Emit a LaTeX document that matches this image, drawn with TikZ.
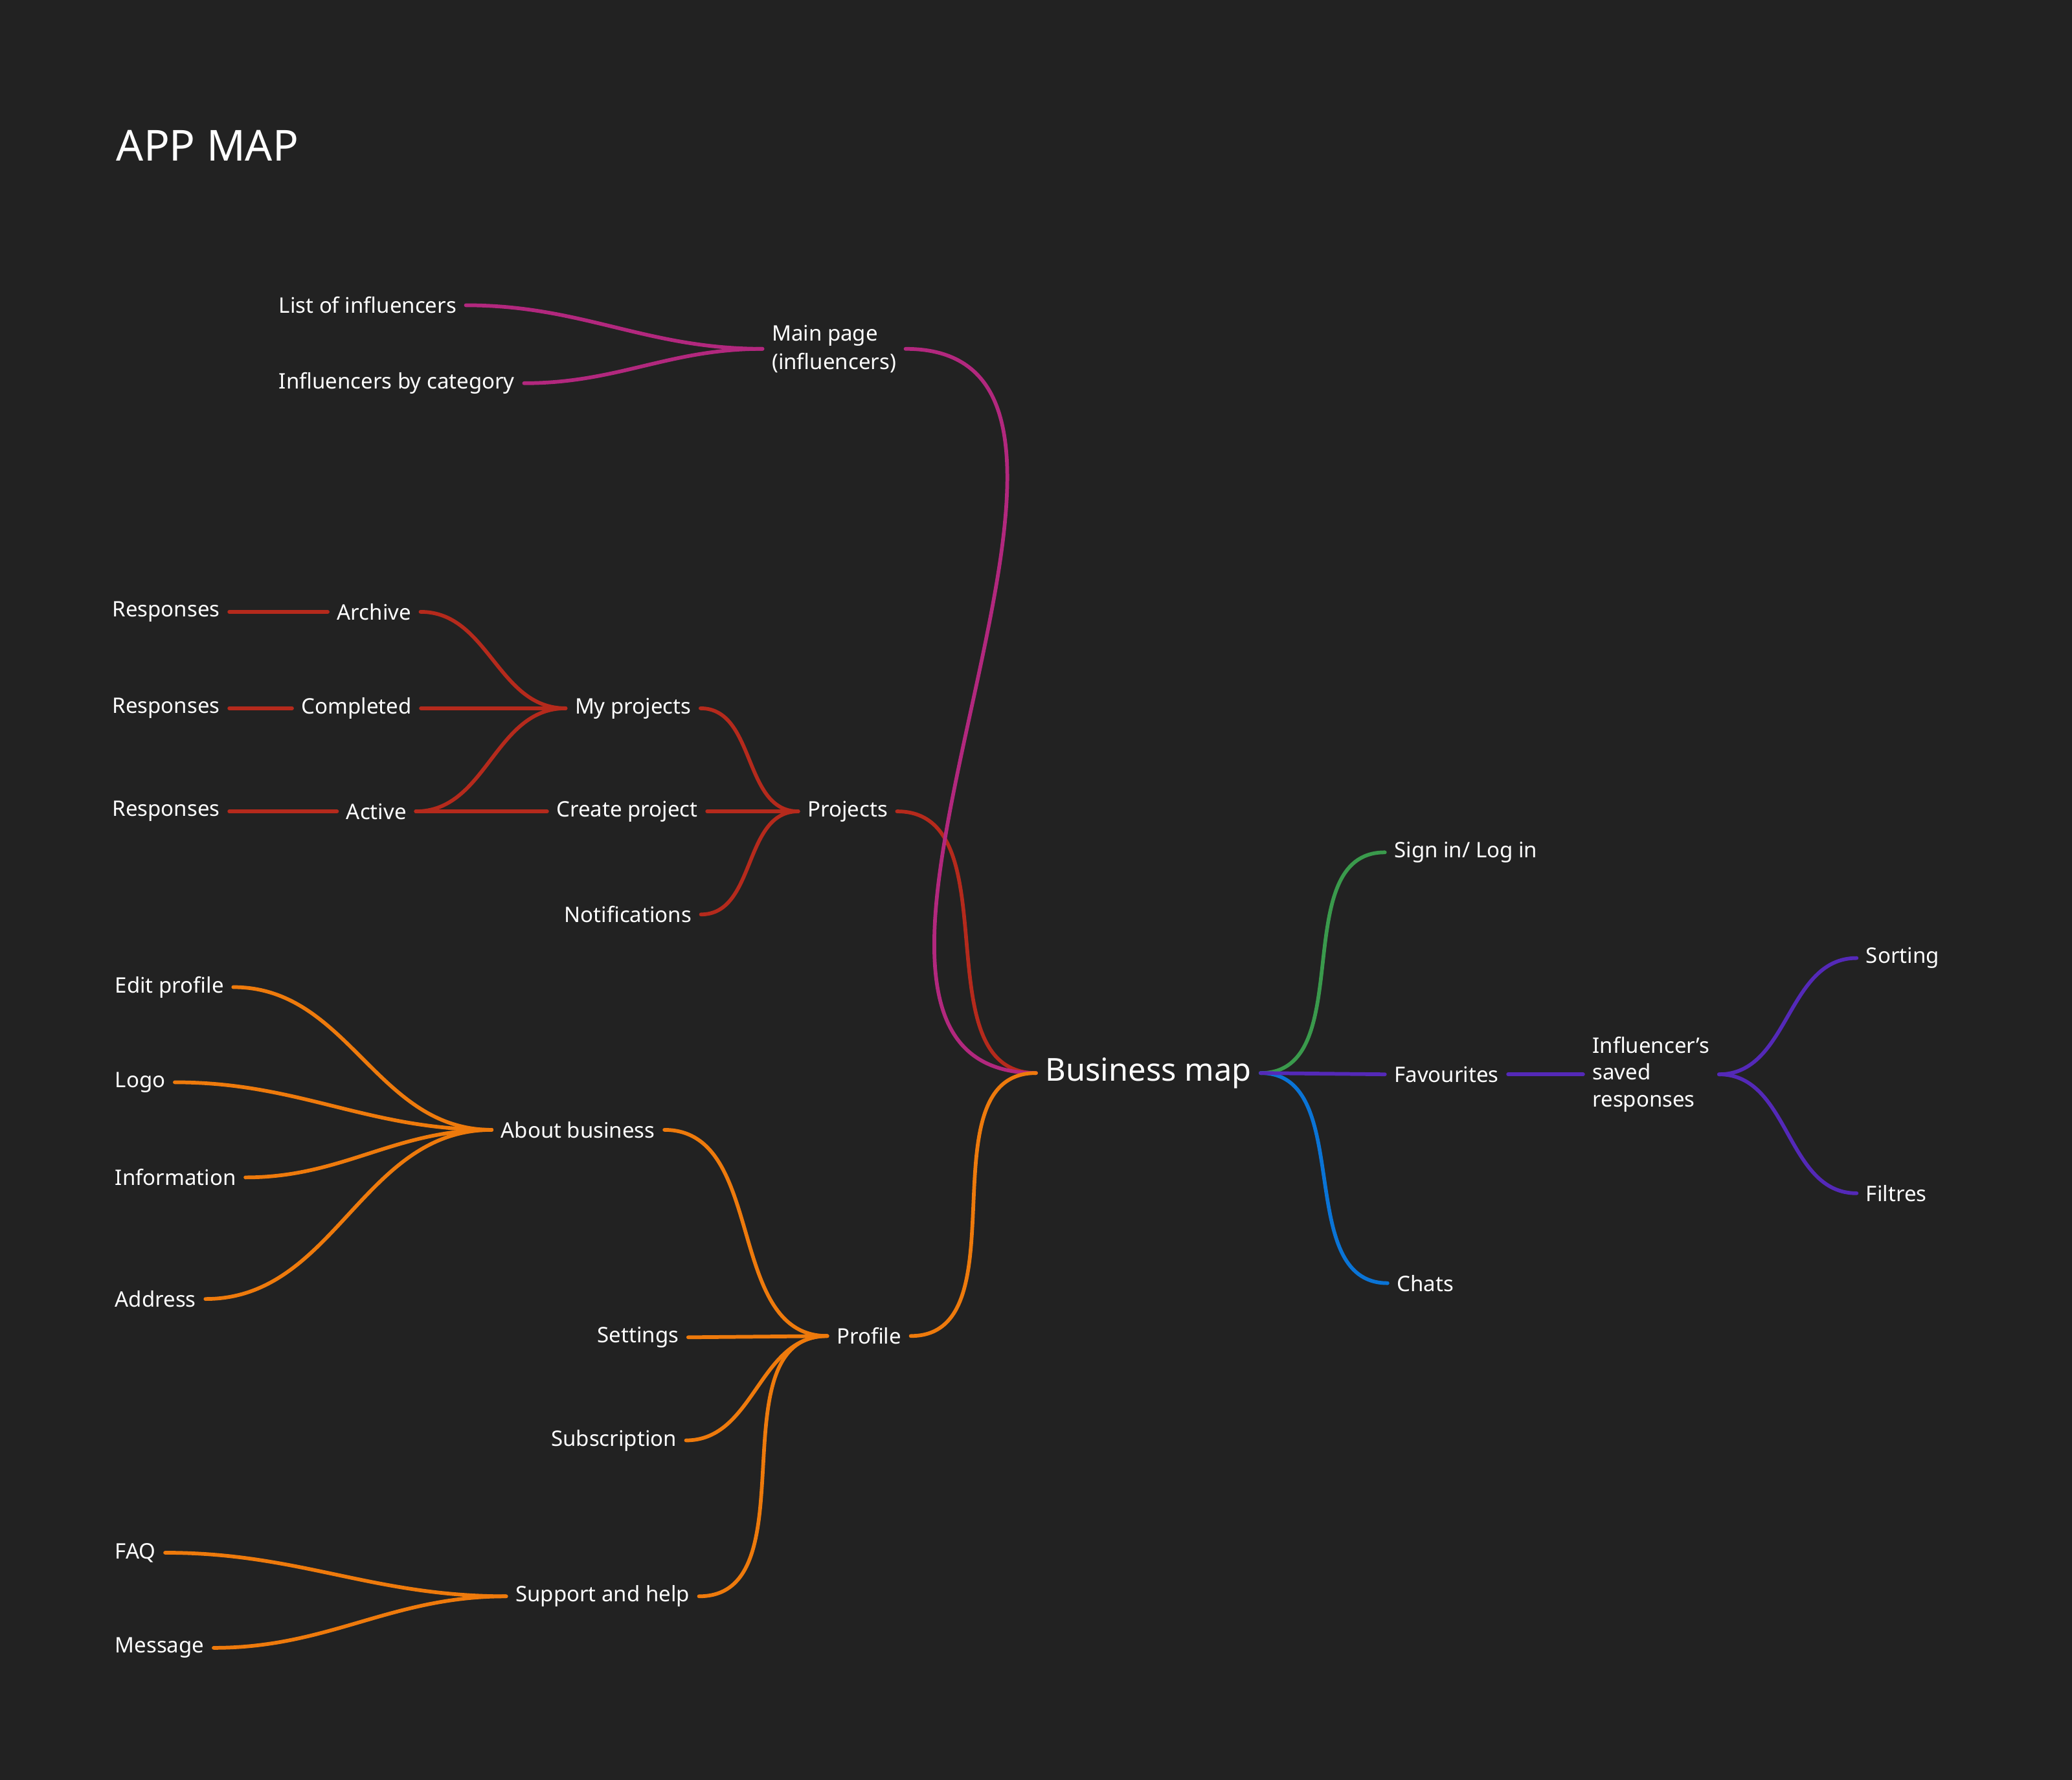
\documentclass[tikz,border=0pt]{standalone}
\usepackage{fontspec}
\setmainfont{Noto Sans}
\begin{document}
\begin{tikzpicture}[x=0.5mm,y=-0.5mm,
  lbl/.style={anchor=west,xshift=-3.5mm,inner xsep=3.5mm,inner ysep=0pt,text=white,font=\fontsize{23}{31}\selectfont,align=left},
  c/.style={line width=4pt,line cap=round},
  s/.style={out=0,in=180}]
\definecolor{bg}{HTML}{222222}
\definecolor{mag}{HTML}{B2287E}
\definecolor{red}{HTML}{B52A1C}
\definecolor{org}{HTML}{EE7A0C}
\definecolor{grn}{HTML}{3A9A4C}
\definecolor{pur}{HTML}{5429B8}
\definecolor{blu}{HTML}{0A74D6}
\fill[bg] (0,0) rectangle (1568,1347);
\useasboundingbox (0,0) rectangle (1568,1347);
\node[lbl,font=\fontsize{46}{50}\selectfont] (title) at (88,110) {APP MAP};
% main page
\node[lbl] (loi) at (211,231) {List of influencers};
\node[lbl] (ibc) at (211,290) {Influencers by category};
\node[lbl] (mp) at (584,264) {Main page\\(influencers)};
% projects
\node[lbl] (r1) at (85,463) {Responses};
\node[lbl] (r2) at (85,536) {Responses};
\node[lbl] (r3) at (85,614) {Responses};
\node[lbl] (arc) at (255,463) {Archive};
\node[lbl] (com) at (228,536) {Completed};
\node[lbl] (act) at (262,614) {Active};
\node[lbl] (myp) at (435,536) {My projects};
\node[lbl] (crp) at (421,614) {Create project};
\node[lbl] (not) at (427,692) {Notifications};
\node[lbl] (prj) at (611,614) {Projects};
% profile
\node[lbl] (edp) at (87,747) {Edit profile};
\node[lbl] (logo) at (87,819) {Logo};
\node[lbl] (inf) at (87,891) {Information};
\node[lbl] (adr) at (87,983) {Address};
\node[lbl] (ab) at (379,855) {About business};
\node[lbl] (set) at (452,1012) {Settings};
\node[lbl] (sub) at (417,1090) {Subscription};
\node[lbl] (faq) at (87,1175) {FAQ};
\node[lbl] (msg) at (87,1247) {Message};
\node[lbl] (sup) at (390,1208) {Support and help};
\node[lbl] (pro) at (633,1011) {Profile};
% center
\node[lbl,font=\fontsize{34}{40}\selectfont] (bm) at (791,812) {Business map};
\node[lbl] (sig) at (1055,645) {Sign in/ Log in};
\node[lbl] (fav) at (1055,813) {Favourites};
\node[lbl] (cha) at (1057,971) {Chats};
\node[lbl,font=\fontsize{23}{29}\selectfont] (isr) at (1205,813) {Influencer’s\\saved\\responses};
\node[lbl] (sor) at (1412,725) {Sorting};
\node[lbl] (fil) at (1412,903) {Filtres};
% connectors
\draw[c,mag] (loi.east) to[s] (mp.west);
\draw[c,mag] (ibc.east) to[s] (mp.west);
\draw[c,red] (r1.east) -- (arc.west);
\draw[c,red] (r2.east) -- (com.west);
\draw[c,red] (r3.east) -- (act.west);
\draw[c,red] (arc.east) to[s] (myp.west);
\draw[c,red] (com.east) -- (myp.west);
\draw[c,red] (act.east) to[s] (myp.west);
\draw[c,red] (act.east) -- (crp.west);
\draw[c,red] (myp.east) to[s] (prj.west);
\draw[c,red] (crp.east) -- (prj.west);
\draw[c,red] (not.east) to[s] (prj.west);
\draw[c,red] (prj.east) to[s] (bm.west);
\draw[c,mag] (mp.east) to[s] (bm.west);
\draw[c,org] (edp.east) to[s] (ab.west);
\draw[c,org] (logo.east) to[s] (ab.west);
\draw[c,org] (inf.east) to[s] (ab.west);
\draw[c,org] (adr.east) to[s] (ab.west);
\draw[c,org] (ab.east) to[s] (pro.west);
\draw[c,org] (set.east) -- (pro.west);
\draw[c,org] (sub.east) to[s] (pro.west);
\draw[c,org] (faq.east) to[s] (sup.west);
\draw[c,org] (msg.east) to[s] (sup.west);
\draw[c,org] (sup.east) to[s] (pro.west);
\draw[c,org] (pro.east) to[s] (bm.west);
\draw[c,grn] (bm.east) to[s] (sig.west);
\draw[c,blu] (bm.east) to[s] (cha.west);
\draw[c,pur] (bm.east) -- (fav.west);
\draw[c,pur] (fav.east) -- (isr.west);
\draw[c,pur] (isr.east) to[s] (sor.west);
\draw[c,pur] (isr.east) to[s] (fil.west);
\end{tikzpicture}
\end{document}
